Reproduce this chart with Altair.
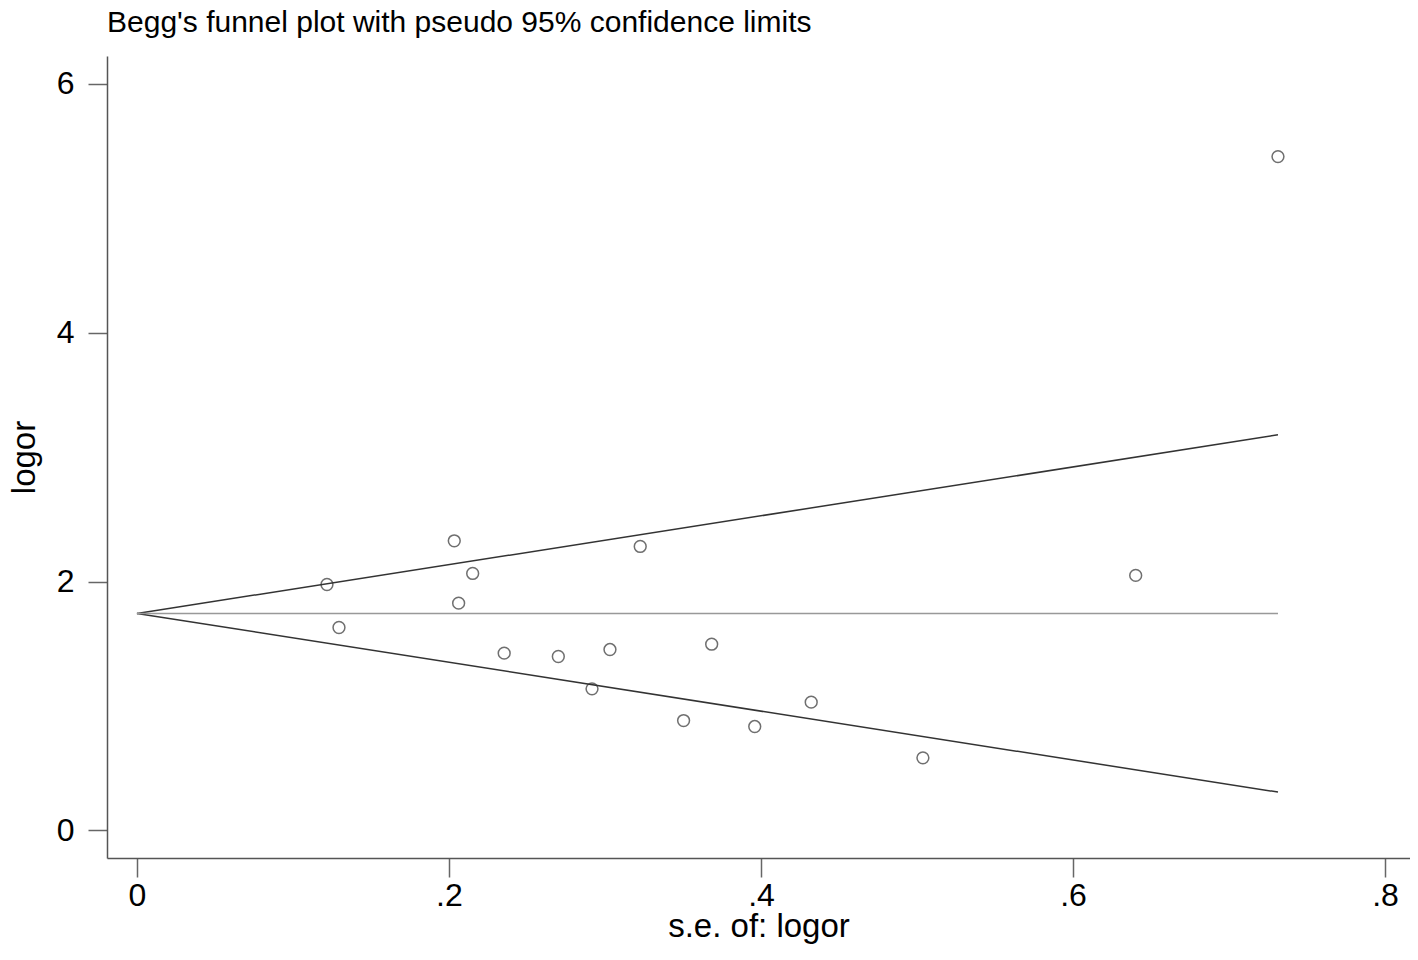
import altair as alt
import pandas as pd

# study points (s.e. of logor, logor)
se_vals = [0.1218, 0.1295, 0.2034, 0.2062, 0.2152, 0.2354, 0.2701, 0.2917, 0.3032,
           0.3226, 0.3504, 0.3684, 0.3960, 0.4322, 0.5038, 0.6402, 0.7314]
logor_vals = [1.976, 1.630, 2.327, 1.826, 2.065, 1.424, 1.397, 1.137, 1.453,
              2.282, 0.882, 1.496, 0.834, 1.030, 0.582, 2.049, 5.416]

# funnel lines (end points)
line_se = [0.0, 0.7314]
upper_lim = [1.743, 3.179]
lower_lim = [1.743, 0.307]
center_line = [1.743, 1.743]

x_ticks = [0, 0.2, 0.4, 0.6, 0.8]
y_ticks = [0, 2, 4, 6]

FONT = "Liberation Sans"

pts = pd.DataFrame({"se": se_vals, "logor": logor_vals})
lines = pd.DataFrame({
    "se": line_se * 2,
    "val": upper_lim + lower_lim,
    "series": ["upper"] * 2 + ["lower"] * 2,
})
center = pd.DataFrame({"se": line_se, "val": center_line})

xscale = alt.Scale(domain=[-0.0192, 0.81603], nice=False, zero=False)
yscale = alt.Scale(domain=[-0.223, 6.225], nice=False, zero=False)

xaxis = alt.Axis(
    values=x_ticks,
    labelExpr="datum.value == 0 ? '0' : replace(format(datum.value, '.1f'), '0.', '.')",
    title="s.e. of: logor", titleFontSize=33, titleFont=FONT, titleFontWeight="normal",
    titleColor="black", titleBaseline="alphabetic", titleY=78,
    labelFontSize=32, labelFont=FONT, labelColor="black", labelPadding=3,
    tickSize=19, tickColor="#666", tickWidth=1.5,
    domainColor="#555", domainWidth=1.5, grid=False,
)
yaxis = alt.Axis(
    values=y_ticks, format="d",
    title="logor", titleFontSize=33, titleFont=FONT, titleFontWeight="normal",
    titleColor="black", titleX=-66, titleY=401, titleAngle=270,
    titleAlign="center", titleBaseline="bottom",
    labelFontSize=32, labelFont=FONT, labelColor="black", labelPadding=14,
    tickSize=19, tickColor="#666", tickWidth=1.5,
    domainColor="#555", domainWidth=1.5, grid=False,
)

funnel = alt.Chart(lines).mark_line(color="#333", strokeWidth=1.5).encode(
    x=alt.X("se:Q", scale=xscale, axis=xaxis),
    y=alt.Y("val:Q", scale=yscale, axis=yaxis),
    detail="series:N",
)
mid = alt.Chart(center).mark_line(color="#999", strokeWidth=1.5).encode(
    x=alt.X("se:Q", scale=xscale),
    y=alt.Y("val:Q", scale=yscale),
)
points = alt.Chart(pts).mark_point(
    shape="circle", filled=False, color="#333", size=140, strokeWidth=1.5
).encode(
    x=alt.X("se:Q", scale=xscale),
    y=alt.Y("logor:Q", scale=yscale),
)

chart = alt.layer(funnel, mid, points).properties(
    width=1303,
    height=802,
    autosize=alt.AutoSizeParams(type="none"),
    padding={"left": 99, "top": 48, "right": 0, "bottom": 88},
    title=alt.TitleParams(
        "Begg's funnel plot with pseudo 95% confidence limits",
        anchor="start", frame="group", fontSize=30, font=FONT,
        fontWeight="normal", color="black", baseline="alphabetic", offset=0, dy=6,
    ),
).configure(background="white", view=alt.ViewConfig(stroke=None))

chart.save("out.html", embed_options={"renderer": "svg", "actions": False})
